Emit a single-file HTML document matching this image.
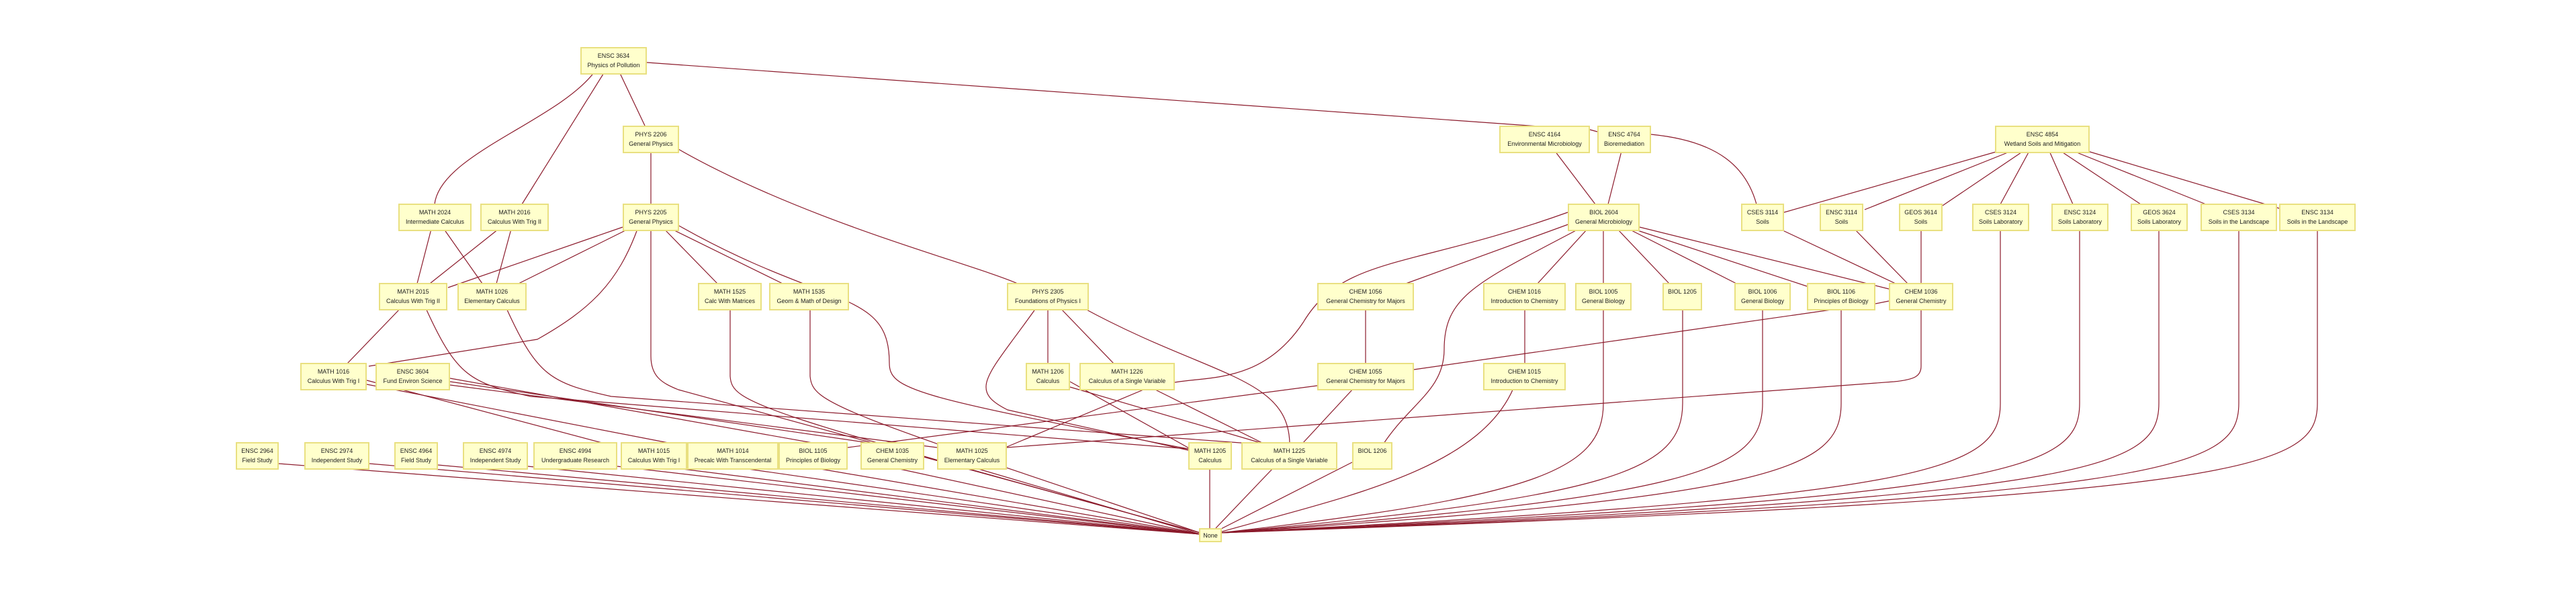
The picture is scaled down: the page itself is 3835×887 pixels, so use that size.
<!DOCTYPE html>
<html><head><meta charset="utf-8"><style>
body{margin:0;background:#fff;width:3835px;height:887px;position:relative;overflow:hidden;font-family:"Liberation Sans",sans-serif}
svg{position:absolute;left:0;top:0}
.n{position:absolute;height:33px;background:#ffffcc;border:2px solid #e9e080;box-sizing:content-box;font-size:9px;line-height:14px;color:#222;text-align:center;white-space:nowrap;padding-top:4px;overflow:hidden}
</style></head><body>
<svg width="3835" height="887" fill="none" stroke="#8b1a2b" stroke-width="1.2">
<!-- top -->
<path d="M885 107 C830 180,655 230,647 304"/>
<path d="M900 107 L777 304"/>
<path d="M922 107 L960 187"/>
<path d="M963 93 L2290 188"/><path d="M2367 193 L2378 196"/>
<path d="M2458 200 C2560 210,2600 250,2615 304"/>
<path d="M2315 225 L2375 304"/><path d="M2414 225 L2394 304"/>
<path d="M2975 225 L2656 316"/><path d="M2994 225 L2776 312"/><path d="M3012 225 L2892 306"/>
<path d="M3021 225 L2978 304"/><path d="M3051 225 L3086 304"/><path d="M3068 225 L3187 304"/>
<path d="M3087 225 L3284 304"/><path d="M3108 225 L3393 310"/>
<path d="M969 225 L969 304"/><path d="M1010 222 C1200 330,1440 390,1515 422"/>
<path d="M642 341 L621 422"/><path d="M661 341 L718 422"/>
<path d="M742 341 L640 422"/><path d="M761 341 L739 422"/>
<path d="M927 338 L667 428"/><path d="M935 341 L772 422"/>
<path d="M949 341 C920 420,880 460,800 505 L549 545"/>
<path d="M969 341 L969 530 C969 560,985 570,1010 580 L1787 793"/>
<path d="M989 341 L1068 422"/><path d="M1000 341 L1165 422"/>
<path d="M1011 336 C1230 460,1324 430,1324 540 C1324 580,1360 590,1769 668"/>
<path d="M1087 459 L1087 560 C1090 600,1120 610,1787 793"/>
<path d="M1206 459 L1206 560 C1210 600,1240 610,1787 793"/>
<path d="M596 459 L517 541"/>
<path d="M634 459 C680 560,700 570,790 590 L1769 668"/>
<path d="M754 459 C800 560,820 570,910 590 L1860 660"/>
<path d="M546 566 L900 660"/><path d="M546 572 L1000 660"/>
<path d="M670 563 L1215 660"/><path d="M670 568 L1300 660"/><path d="M670 573 L1395 666"/>
<path d="M1560 459 L1560 541"/><path d="M1579 459 L1658 541"/>
<path d="M1542 459 C1470 560,1440 580,1500 610 L1769 670"/>
<path d="M1614 459 C1800 560,1918 560,1920 660"/>
<path d="M1593 568 L1772 668"/><path d="M1593 576 L1880 660"/>
<path d="M1716 578 L1881 660"/><path d="M1707 578 L1499 665"/>
<path d="M2334 316 C2100 400,2000 380,1940 480 C1880 570,1800 560,1749 569"/>
<path d="M2340 332 L2093 422"/>
<path d="M2350 341 C2200 420,2150 440,2150 520 C2150 580,2100 600,2060 660"/>
<path d="M2363 341 L2289 422"/><path d="M2387 341 L2387 422"/><path d="M2408 341 L2485 422"/>
<path d="M2425 341 L2585 422"/><path d="M2432 341 L2690 426"/><path d="M2441 338 L2812 430"/>
<path d="M2650 341 L2822 422"/><path d="M2761 341 L2840 422"/><path d="M2860 341 L2860 422"/>
<path d="M2033 459 L2033 541"/><path d="M2270 459 L2270 541"/>
<path d="M2740 459 L2105 550"/><path d="M2792 452 L2812 448"/>
<path d="M2860 459 L2860 545 C2860 560,2850 565,2820 568 L1499 666"/>
<path d="M2015 578 L1939 660"/><path d="M1961 574 L1262 666"/>
<!-- to None -->
<path d="M415 690 L1787 795"/><path d="M550 690 L1787 795"/><path d="M652 692 L1787 795"/>
<path d="M786 694 L1787 795"/><path d="M919 694 L1787 795"/><path d="M1000 696 L1787 795"/>
<path d="M1100 696 L1787 795"/><path d="M1210 696 L1787 795"/><path d="M1330 696 L1787 795"/>
<path d="M1450 696 L1787 795"/>
<path d="M1801 697 L1801 786"/><path d="M1895 697 L1810 786"/><path d="M2013 688 L1816 788"/>
<path d="M2253 578 C2200 700,2000 740,1816 792"/>
<path d="M2387 459 L2387 600 C2387 700,2287 740,1816 793"/>
<path d="M2505 459 L2505 600 C2505 700,2405 740,1816 793"/>
<path d="M2624 459 L2624 600 C2624 700,2524 740,1816 793"/>
<path d="M2741 459 L2741 600 C2741 700,2641 740,1816 793"/>
<path d="M2978 341 L2978 600 C2978 700,2878 740,1816 793"/>
<path d="M3096 341 L3096 600 C3096 700,2996 740,1816 793"/>
<path d="M3214 341 L3214 600 C3214 700,3114 740,1816 793"/>
<path d="M3333 341 L3333 600 C3333 700,3233 740,1816 793"/>
<path d="M3450 341 L3450 600 C3450 700,3350 740,1816 793"/>
</svg>
<div class="n" style="left:864px;top:70px;width:95px">ENSC 3634<br>Physics of Pollution</div>
<div class="n" style="left:927px;top:187px;width:80px">PHYS 2206<br>General Physics</div>
<div class="n" style="left:2232px;top:187px;width:131px">ENSC 4164<br>Environmental Microbiology</div>
<div class="n" style="left:2378px;top:187px;width:76px">ENSC 4764<br>Bioremediation</div>
<div class="n" style="left:2970px;top:187px;width:137px">ENSC 4854<br>Wetland Soils and Mitigation</div>
<div class="n" style="left:593px;top:303px;width:105px">MATH 2024<br>Intermediate Calculus</div>
<div class="n" style="left:715px;top:303px;width:98px">MATH 2016<br>Calculus With Trig II</div>
<div class="n" style="left:927px;top:303px;width:80px">PHYS 2205<br>General Physics</div>
<div class="n" style="left:2334px;top:303px;width:103px">BIOL 2604<br>General Microbiology</div>
<div class="n" style="left:2592px;top:303px;width:60px">CSES 3114<br>Soils</div>
<div class="n" style="left:2709px;top:303px;width:61px">ENSC 3114<br>Soils</div>
<div class="n" style="left:2827px;top:303px;width:61px">GEOS 3614<br>Soils</div>
<div class="n" style="left:2936px;top:303px;width:81px">CSES 3124<br>Soils Laboratory</div>
<div class="n" style="left:3054px;top:303px;width:81px">ENSC 3124<br>Soils Laboratory</div>
<div class="n" style="left:3172px;top:303px;width:81px">GEOS 3624<br>Soils Laboratory</div>
<div class="n" style="left:3276px;top:303px;width:110px">CSES 3134<br>Soils in the Landscape</div>
<div class="n" style="left:3393px;top:303px;width:110px">ENSC 3134<br>Soils in the Landscape</div>
<div class="n" style="left:564px;top:421px;width:98px">MATH 2015<br>Calculus With Trig II</div>
<div class="n" style="left:681px;top:421px;width:99px">MATH 1026<br>Elementary Calculus</div>
<div class="n" style="left:1039px;top:421px;width:91px">MATH 1525<br>Calc With Matrices</div>
<div class="n" style="left:1145px;top:421px;width:115px">MATH 1535<br>Geom &amp; Math of Design</div>
<div class="n" style="left:1499px;top:421px;width:118px">PHYS 2305<br>Foundations of Physics I</div>
<div class="n" style="left:1961px;top:421px;width:140px">CHEM 1056<br>General Chemistry for Majors</div>
<div class="n" style="left:2208px;top:421px;width:119px">CHEM 1016<br>Introduction to Chemistry</div>
<div class="n" style="left:2345px;top:421px;width:80px">BIOL 1005<br>General Biology</div>
<div class="n" style="left:2475px;top:421px;width:55px">BIOL 1205</div>
<div class="n" style="left:2582px;top:421px;width:80px">BIOL 1006<br>General Biology</div>
<div class="n" style="left:2690px;top:421px;width:98px">BIOL 1106<br>Principles of Biology</div>
<div class="n" style="left:2812px;top:421px;width:92px">CHEM 1036<br>General Chemistry</div>
<div class="n" style="left:447px;top:540px;width:95px">MATH 1016<br>Calculus With Trig I</div>
<div class="n" style="left:559px;top:540px;width:107px">ENSC 3604<br>Fund Environ Science</div>
<div class="n" style="left:1527px;top:540px;width:62px">MATH 1206<br>Calculus</div>
<div class="n" style="left:1607px;top:540px;width:138px">MATH 1226<br>Calculus of a Single Variable</div>
<div class="n" style="left:1961px;top:540px;width:140px">CHEM 1055<br>General Chemistry for Majors</div>
<div class="n" style="left:2208px;top:540px;width:119px">CHEM 1015<br>Introduction to Chemistry</div>
<div class="n" style="left:351px;top:658px;width:60px">ENSC 2964<br>Field Study</div>
<div class="n" style="left:453px;top:658px;width:93px">ENSC 2974<br>Independent Study</div>
<div class="n" style="left:587px;top:658px;width:61px">ENSC 4964<br>Field Study</div>
<div class="n" style="left:689px;top:658px;width:93px">ENSC 4974<br>Independent Study</div>
<div class="n" style="left:794px;top:658px;width:121px">ENSC 4994<br>Undergraduate Research</div>
<div class="n" style="left:924px;top:658px;width:95px">MATH 1015<br>Calculus With Trig I</div>
<div class="n" style="left:1023px;top:658px;width:132px">MATH 1014<br>Precalc With Transcendental</div>
<div class="n" style="left:1159px;top:658px;width:99px">BIOL 1105<br>Principles of Biology</div>
<div class="n" style="left:1281px;top:658px;width:91px">CHEM 1035<br>General Chemistry</div>
<div class="n" style="left:1395px;top:658px;width:100px">MATH 1025<br>Elementary Calculus</div>
<div class="n" style="left:1769px;top:658px;width:61px">MATH 1205<br>Calculus</div>
<div class="n" style="left:1848px;top:658px;width:139px">MATH 1225<br>Calculus of a Single Variable</div>
<div class="n" style="left:2013px;top:658px;width:56px">BIOL 1206</div>
<div class="n" style="left:1785px;top:786px;width:30px;height:15px;padding-top:2px;line-height:15px">None</div>
</body></html>
